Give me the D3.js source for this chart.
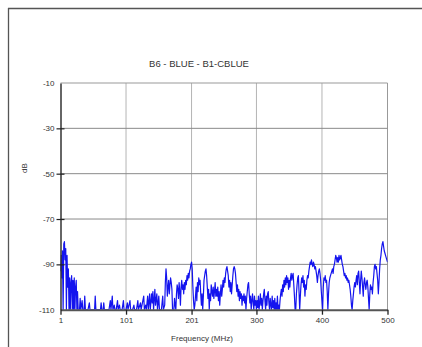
<!DOCTYPE html>
<html>
<head>
<meta charset="utf-8">
<script src="https://cdn.jsdelivr.net/npm/d3@7"></script>
<style>
  html, body { margin: 0; padding: 0; background: #fff; }
  svg { display: block; }
  text { font-family: "Liberation Sans", Arial, sans-serif; fill: #333; }
</style>
</head>
<body>
<svg id="chart" width="422" height="347"></svg>
<script>
const chartTitle = "B6 - BLUE - B1-CBLUE";
const xLabel = "Frequency (MHz)";
const yLabel = "dB";
const xTicks = [1, 101, 201, 300, 400, 500];
const yTicks = [-10, -30, -50, -70, -90, -110];

const freqMHz = [
  1,2,3,4,5,6,7,8,9,10,11,12,13,14,15,16,17,18,19,20,21,22,23,24,25,26,27,28,30,31,32,34,35,37,38,39,41,43,45,46,50,53,54,55,58,62,63,64,66,67,68,72,75,77,78,80,81,83,84,86,88,89,91,92,95,97,98,101,103,104,107,108,111,113,114,117,119,120,123,124,128,129,131,132,134,135,137,138,140,141,142,143,145,146,148,149,151,152,155,157,158,160,
  161,162,163,164,165,166,167,168,169,170,171,172,174,175,176,177,178,179,180,181,182,183,184,185,186,187,188,189,190,191,192,193,194,195,196,197,198,199,200,201,202,203,204,205,206,207,208,209,210,211,212,213,214,215,216,217,218,219,220,221,222,223,224,225,226,227,228,229,230,231,232,233,234,235,236,237,238,239,
  240,241,242,243,244,245,246,247,248,249,250,251,252,253,254,255,256,257,258,259,260,261,262,263,264,265,266,267,268,269,270,271,272,273,274,275,276,277,278,279,280,281,282,283,284,285,286,287,288,289,290,291,292,293,294,295,296,297,298,299,
  300,301,302,303,304,305,306,307,308,309,310,311,312,313,314,315,316,317,318,319,320,321,322,323,324,325,326,327,328,329,330,331,332,333,334,335,336,337,338,339,340,341,342,343,344,345,346,347,348,349,350,351,352,353,354,355,356,357,358,359,360,361,362,363,364,365,366,367,368,369,370,371,372,373,374,375,376,377,378,379,380,381,382,383,384,385,386,387,388,389,390,391,392,393,394,395,396,397,398,399,
  400,401,402,403,404,405,406,407,408,409,410,411,412,413,414,415,416,417,418,419,420,421,422,423,424,425,426,427,428,429,430,431,432,433,434,435,436,437,438,439,440,441,442,443,444,445,446,447,448,449,450,451,452,453,454,455,456,457,458,459,460,461,462,463,464,465,466,467,468,469,470,471,472,473,474,475,476,477,478,479,480,481,482,483,484,485,486,487,488,489,490,491,492,493,494,495,496,497,498,499,500
];

const levelDb = [
  -93,-86,-96,-84,-110,-81,-80,-88,-83,-110,-86,-100,-92,-110,-96,-110,-98,-95,-110,-97,-110,-96,-110,-100,-97,-110,-102,-110,-110,-105,-110,-106,-110,-110,-104,-110,-110,-110,-107,-110,-110,-110,-104,-110,-110,-110,-107,-110,-110,-107,-110,-110,-110,-106,-110,-104,-110,-108,-110,-110,-106,-110,-108,-110,-110,-106,-110,-110,-107,-110,-106,-110,-110,-108,-110,-110,-106,-110,-107,-110,-104,-110,-108,-110,-104,-110,-103,-110,-103,-107,-102,-110,-101,-108,-103,-110,-104,-110,-110,-104,-110,-108,
  -98,-92,-96,-104,-100,-97,-103,-99,-96,-98,-101,-110,-110,-105,-108,-110,-103,-99,-101,-105,-98,-102,-108,-100,-97,-101,-99,-103,-98,-101,-97,-99,-95,-97,-94,-96,-93,-92,-90,-89,-92,-100,-106,-110,-108,-104,-100,-106,-98,-102,-96,-99,-97,-103,-108,-103,-110,-104,-97,-95,-93,-92,-95,-100,-105,-101,-110,-103,-106,-99,-102,-104,-100,-105,-102,-98,-104,-101,
  -104,-100,-106,-102,-108,-103,-99,-104,-101,-97,-100,-96,-98,-94,-92,-91,-93,-95,-100,-97,-102,-98,-103,-99,-95,-92,-91,-92,-94,-98,-102,-99,-104,-101,-106,-102,-105,-103,-108,-104,-106,-103,-107,-104,-110,-105,-102,-99,-98,-103,-107,-104,-110,-106,-103,-107,-110,-104,-108,-106,
  -110,-106,-109,-104,-110,-107,-103,-108,-105,-110,-106,-103,-101,-106,-110,-104,-108,-103,-102,-107,-110,-105,-108,-110,-104,-109,-106,-110,-105,-110,-107,-110,-104,-110,-108,-110,-106,-103,-101,-104,-99,-102,-97,-100,-96,-99,-95,-98,-96,-101,-97,-100,-96,-94,-97,-95,-94,-99,-104,-110,-110,-103,-99,-96,-95,-102,-110,-104,-99,-96,-98,-95,-100,-97,-104,-99,-101,-97,-95,-96,-93,-91,-89,-90,-88,-90,-91,-89,-90,-92,-91,-93,-95,-98,-95,-93,-92,-94,-97,-102,
  -106,-110,-100,-96,-97,-95,-98,-97,-102,-110,-103,-98,-96,-95,-94,-93,-92,-94,-91,-90,-88,-86,-87,-89,-87,-89,-86,-88,-87,-86,-88,-90,-91,-93,-95,-94,-96,-95,-97,-96,-98,-97,-99,-101,-104,-108,-110,-106,-103,-100,-98,-100,-97,-95,-99,-94,-93,-98,-103,-97,-93,-96,-100,-104,-98,-96,-99,-101,-98,-97,-100,-105,-110,-103,-99,-101,-100,-103,-98,-95,-91,-90,-92,-91,-94,-97,-103,-98,-92,-88,-86,-83,-81,-80,-82,-84,-85,-86,-87,-88,-89
];

const data = freqMHz.map((f, i) => ({ f, v: levelDb[i] }));

const svg = d3.select("#chart");
const pLeft = 60.5, pRight = 387.5, pTop = 83, pBottom = 309.7;

const x = d3.scaleLinear().domain([1, 500]).range([pLeft, pRight]);
const y = d3.scaleLinear().domain([-110, -10]).range([pBottom, pTop]);
const fmt = d => String(d);

// outer frame
svg.append("line").attr("x1", 8).attr("x2", 422).attr("y1", 8.5).attr("y2", 8.5)
  .attr("stroke", "#555").attr("stroke-width", 1.3);
svg.append("line").attr("x1", 8.5).attr("x2", 8.5).attr("y1", 8).attr("y2", 347)
  .attr("stroke", "#555").attr("stroke-width", 1.3);

// grid lines
svg.append("g").selectAll("line").data(xTicks.filter(t => t !== 1)).join("line")
  .attr("x1", d => x(d)).attr("x2", d => x(d)).attr("y1", pTop).attr("y2", pBottom)
  .attr("stroke", d => d === 500 ? "#999" : "#b4b4b4").attr("stroke-width", 1);
svg.append("g").selectAll("line").data(yTicks.filter(t => t !== -110)).join("line")
  .attr("x1", pLeft).attr("x2", pRight).attr("y1", d => y(d)).attr("y2", d => y(d))
  .attr("stroke", d => d === -10 ? "#999" : "#8a8a8a").attr("stroke-width", 1);

// data line
svg.append("clipPath").attr("id", "clip").append("rect")
  .attr("x", pLeft).attr("y", pTop).attr("width", pRight - pLeft).attr("height", pBottom - pTop);
svg.append("path").datum(data)
  .attr("clip-path", "url(#clip)")
  .attr("fill", "none").attr("stroke", "#1414ee").attr("stroke-width", 1.2)
  .attr("stroke-linejoin", "round")
  .attr("d", d3.line().x(d => x(d.f)).y(d => y(Math.max(-110, d.v))));

// x axis
const xAxis = svg.append("g").attr("transform", `translate(0,${pBottom})`)
  .call(d3.axisBottom(x).tickValues(xTicks).tickSize(5).tickSizeOuter(0).tickFormat(fmt));
xAxis.select(".domain").attr("stroke", "#555").attr("stroke-width", 2);
xAxis.selectAll(".tick line").attr("stroke", "#222").attr("stroke-width", 1.3);
xAxis.selectAll(".tick text").attr("y", 8).attr("font-size", 8)
  .style("font-family", "'Liberation Sans', Arial, sans-serif").attr("fill", "#333");

// y axis
const yAxis = svg.append("g").attr("transform", `translate(${pLeft},0)`)
  .call(d3.axisLeft(y).tickValues(yTicks).tickSize(4).tickSizeOuter(0).tickFormat(fmt));
yAxis.select(".domain").attr("stroke", "#333").attr("stroke-width", 1.5);
yAxis.selectAll(".tick line").attr("stroke", "#222").attr("stroke-width", 1.2)
  .attr("x2", d => d === -10 || d === -110 ? 0 : -4)
  .attr("x1", d => d === -10 || d === -110 ? 0 : 4);
yAxis.selectAll(".tick text").attr("x", -6).attr("font-size", 8)
  .style("font-family", "'Liberation Sans', Arial, sans-serif").attr("fill", "#333");

// title and labels
svg.append("text").attr("x", 199).attr("y", 67).attr("text-anchor", "middle")
  .attr("font-size", 9.5).text(chartTitle);
svg.append("text").attr("x", 202).attr("y", 341).attr("text-anchor", "middle")
  .attr("font-size", 8).text(xLabel);
svg.append("text").attr("transform", "translate(27,168) rotate(-90)").attr("text-anchor", "middle")
  .attr("font-size", 8).text(yLabel);
</script>
</body>
</html>
